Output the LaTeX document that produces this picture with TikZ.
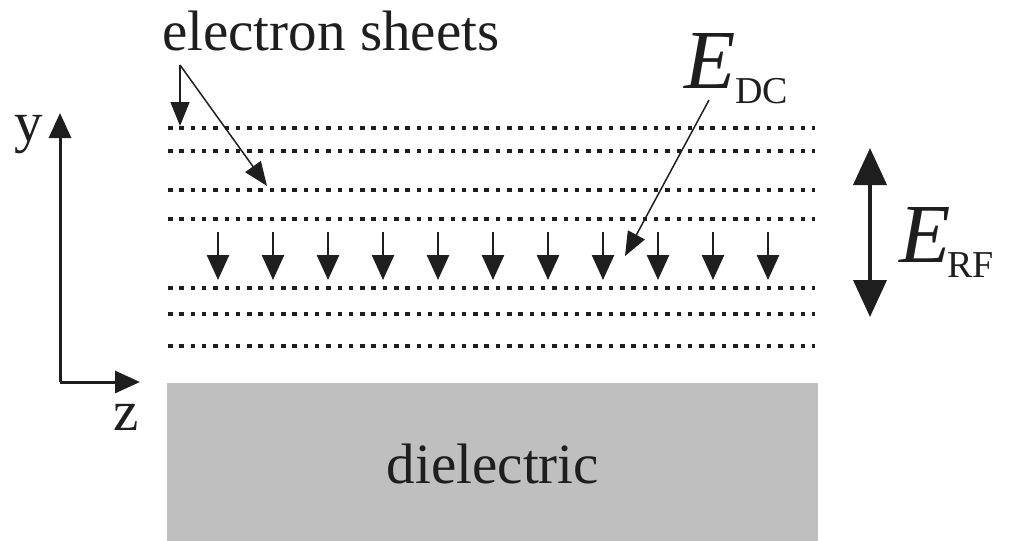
\documentclass[tikz,border=0pt]{standalone}
\usepackage{fontspec}
\setmainfont{Liberation Serif}
\usetikzlibrary{arrows.meta}
\definecolor{ink}{RGB}{30,30,30}
\tikzset{
  sheet/.style={line width=4.5pt, dash pattern=on 4.5pt off 6.8pt},
  fieldarrow/.style={line width=2.5pt, -{Triangle[length=25pt,width=22pt]}},
  axisarrow/.style={line width=3pt, -{Triangle[length=25pt,width=22pt]}},
  thinarrow/.style={line width=1.5pt, -{Triangle[length=24pt,width=19pt]}},
  rfarrow/.style={line width=4pt, {Triangle[length=37pt,width=33pt]}-{Triangle[length=37pt,width=33pt]}},
  bigtext/.style={inner sep=0pt, font=\fontsize{57}{57}\selectfont},
}
\newcommand{\bigE}{\fontsize{84}{84}\selectfont\itshape E}
\newcommand{\subtxt}[1]{\raisebox{-15pt}{\fontsize{38}{38}\selectfont\upshape #1}}
\begin{document}
\begin{tikzpicture}[x=1pt,y=-1pt,color=ink]
\useasboundingbox (0,0) rectangle (1010,541);
% dielectric
\fill[fill={rgb,255:red,191;green,191;blue,191}] (167,383) rectangle (818,541);
\node[bigtext, anchor=base] (diel) at (493,483) {dielectric};
% sheets
\foreach \yy in {128,151,190,219,288,314,346}
  \draw[sheet] (168,\yy) -- (815,\yy);
% DC field arrows
\foreach \k in {0,...,10}{
  \coordinate (a\k) at ({218+55*\k},232);
  \coordinate (b\k) at ({218+55*\k},280);
  \draw[fieldarrow] (a\k) -- (b\k);
}
% axes
\coordinate (origin) at (60,382);
\coordinate (ytip) at (60,113);
\coordinate (ztip) at (140,382);
\draw[axisarrow] (origin) -- (ytip);
\draw[axisarrow] (origin) -- (ztip);
\node[bigtext, anchor=base west] (ylab) at (14,141) {y};
\node[bigtext, anchor=base] (zlab) at (126,430) {z};
% electron sheets label
\node[bigtext, anchor=base west] (es) at (162,50) {electron sheets};
\coordinate (esfrom) at (180,65);
\coordinate (esto1) at (180,126);
\coordinate (esto2) at (267,186);
\draw[thinarrow] (esfrom) -- (esto1);
\draw[thinarrow] (esfrom) -- (esto2);
% E_DC
\node[inner sep=0pt, anchor=base west] (edc) at (684,88) {\bigE\subtxt{DC}};
\coordinate (edcfrom) at (709,100);
\coordinate (edcto) at (625,256);
\draw[thinarrow] (edcfrom) -- (edcto);
% E_RF
\coordinate (rftop) at (870,148);
\coordinate (rfbot) at (870,317);
\draw[rfarrow] (rftop) -- (rfbot);
\node[inner sep=0pt, anchor=base west] (erf) at (899,262) {\bigE\kern-3pt\subtxt{RF}};
\end{tikzpicture}
\end{document}
